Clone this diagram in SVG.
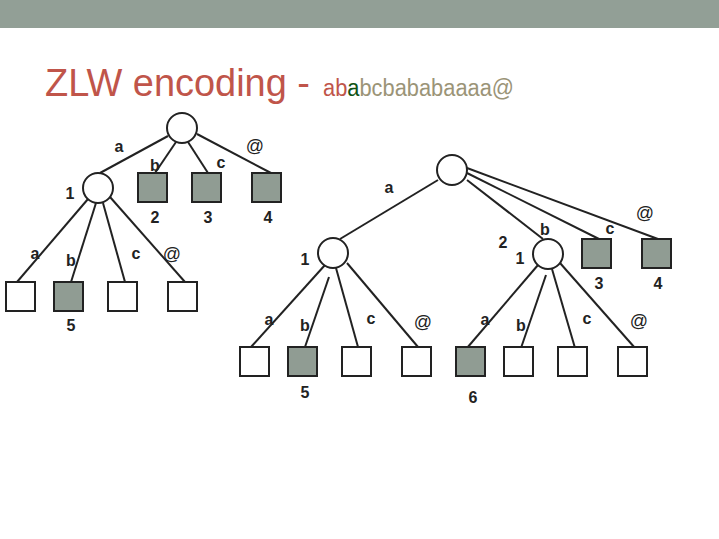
<svg xmlns="http://www.w3.org/2000/svg" width="719" height="539" viewBox="0 0 719 539">
<style>
.lbl{font-family:"Liberation Sans",Arial,sans-serif;font-size:16px;font-weight:bold;fill:#222;text-anchor:middle}
.at{font-weight:normal;font-size:18px}
.circ{fill:#fff;stroke:#222;stroke-width:2}
.sq{stroke:#222;stroke-width:2}
.g{fill:#909C93}
.w{fill:#fff}
.edge line{stroke:#222;stroke-width:2}
</style>
<rect x="0" y="0" width="719" height="539" fill="#fff"/>
<rect x="0" y="0" width="719" height="28" fill="#929F96"/>
<text x="45" y="96" font-family="Liberation Sans,Arial,sans-serif" font-size="39" fill="#C0554A" textLength="265" lengthAdjust="spacingAndGlyphs">ZLW encoding -</text>
<text x="323" y="96" font-family="Liberation Sans,Arial,sans-serif" font-size="23" textLength="191" lengthAdjust="spacingAndGlyphs"><tspan fill="#C0554A">ab</tspan><tspan fill="#0E5316">a</tspan><tspan fill="#9B9477">bcbababaaaa@</tspan></text>

<g id="connectors" class="edge">
<line x1="168" y1="136" x2="100" y2="173"/>
<line x1="176" y1="142" x2="155" y2="173"/>
<line x1="188" y1="142" x2="208" y2="173"/>
<line x1="197" y1="134" x2="271" y2="173"/>
<line x1="88" y1="199" x2="17" y2="282"/>
<line x1="96" y1="203" x2="71" y2="282"/>
<line x1="103" y1="203" x2="125" y2="282"/>
<line x1="110" y1="197" x2="185" y2="282"/>
<line x1="438" y1="180" x2="340" y2="239"/>
<line x1="467" y1="180" x2="543" y2="239"/>
<line x1="467" y1="173" x2="599" y2="239"/>
<line x1="467" y1="168" x2="658" y2="239"/>
<line x1="325" y1="265" x2="251" y2="347"/>
<line x1="329" y1="277" x2="305" y2="347"/>
<line x1="336" y1="268" x2="358" y2="347"/>
<line x1="347" y1="263" x2="418" y2="347"/>
<line x1="538" y1="265" x2="467" y2="348"/>
<line x1="546" y1="275" x2="521" y2="348"/>
<line x1="552" y1="269" x2="575" y2="348"/>
<line x1="560" y1="263" x2="635" y2="348"/>
</g>

<g id="edge-labels">
<text class="lbl" x="119" y="152">a</text>
<text class="lbl" x="155" y="171">b</text>
<text class="lbl" x="221" y="168">c</text>
<text class="lbl at" x="255" y="152">@</text>
<text class="lbl" x="35" y="259">a</text>
<text class="lbl" x="71" y="266">b</text>
<text class="lbl" x="136" y="259">c</text>
<text class="lbl at" x="172" y="260">@</text>
<text class="lbl" x="389" y="193">a</text>
<text class="lbl" x="545" y="235">b</text>
<text class="lbl" x="610" y="234">c</text>
<text class="lbl at" x="645" y="219">@</text>
<text class="lbl" x="503" y="248">2</text>
<text class="lbl" x="269" y="325">a</text>
<text class="lbl" x="305" y="331">b</text>
<text class="lbl" x="371" y="324">c</text>
<text class="lbl at" x="423" y="328">@</text>
<text class="lbl" x="485" y="325">a</text>
<text class="lbl" x="521" y="331">b</text>
<text class="lbl" x="587" y="324">c</text>
<text class="lbl at" x="639" y="327">@</text>
</g>

<g id="L-root"><circle class="circ" cx="182" cy="128" r="15"/></g>
<g id="L-n1"><circle class="circ" cx="98" cy="188" r="15"/><text class="lbl" x="70" y="199">1</text></g>
<g id="L-n2"><rect class="sq g" x="138" y="173" width="29" height="29"/><text class="lbl" x="155" y="223">2</text></g>
<g id="L-n3"><rect class="sq g" x="192" y="173" width="29" height="29"/><text class="lbl" x="208" y="223">3</text></g>
<g id="L-n4"><rect class="sq g" x="252" y="173" width="29" height="29"/><text class="lbl" x="268" y="223">4</text></g>
<g id="L-1a"><rect class="sq w" x="6" y="282" width="29" height="29"/></g>
<g id="L-1b"><rect class="sq g" x="54" y="282" width="29" height="29"/><text class="lbl" x="71" y="331">5</text></g>
<g id="L-1c"><rect class="sq w" x="108" y="282" width="29" height="29"/></g>
<g id="L-1at"><rect class="sq w" x="168" y="282" width="29" height="29"/></g>

<g id="R-root"><circle class="circ" cx="452" cy="170" r="15"/></g>
<g id="R-n1"><circle class="circ" cx="333" cy="253" r="15"/><text class="lbl" x="305" y="265">1</text></g>
<g id="R-n2"><circle class="circ" cx="548" cy="254" r="15"/><text class="lbl" x="520" y="264">1</text></g>
<g id="R-n3"><rect class="sq g" x="582" y="239" width="29" height="29"/><text class="lbl" x="599" y="289">3</text></g>
<g id="R-n4"><rect class="sq g" x="642" y="239" width="29" height="29"/><text class="lbl" x="658" y="289">4</text></g>
<g id="R-1a"><rect class="sq w" x="240" y="347" width="29" height="29"/></g>
<g id="R-1b"><rect class="sq g" x="288" y="347" width="29" height="29"/><text class="lbl" x="305" y="398">5</text></g>
<g id="R-1c"><rect class="sq w" x="342" y="347" width="29" height="29"/></g>
<g id="R-1at"><rect class="sq w" x="402" y="347" width="29" height="29"/></g>
<g id="R-2a"><rect class="sq g" x="456" y="347" width="29" height="29"/><text class="lbl" x="473" y="403">6</text></g>
<g id="R-2b"><rect class="sq w" x="504" y="347" width="29" height="29"/></g>
<g id="R-2c"><rect class="sq w" x="558" y="347" width="29" height="29"/></g>
<g id="R-2at"><rect class="sq w" x="618" y="347" width="29" height="29"/></g>
</svg>
